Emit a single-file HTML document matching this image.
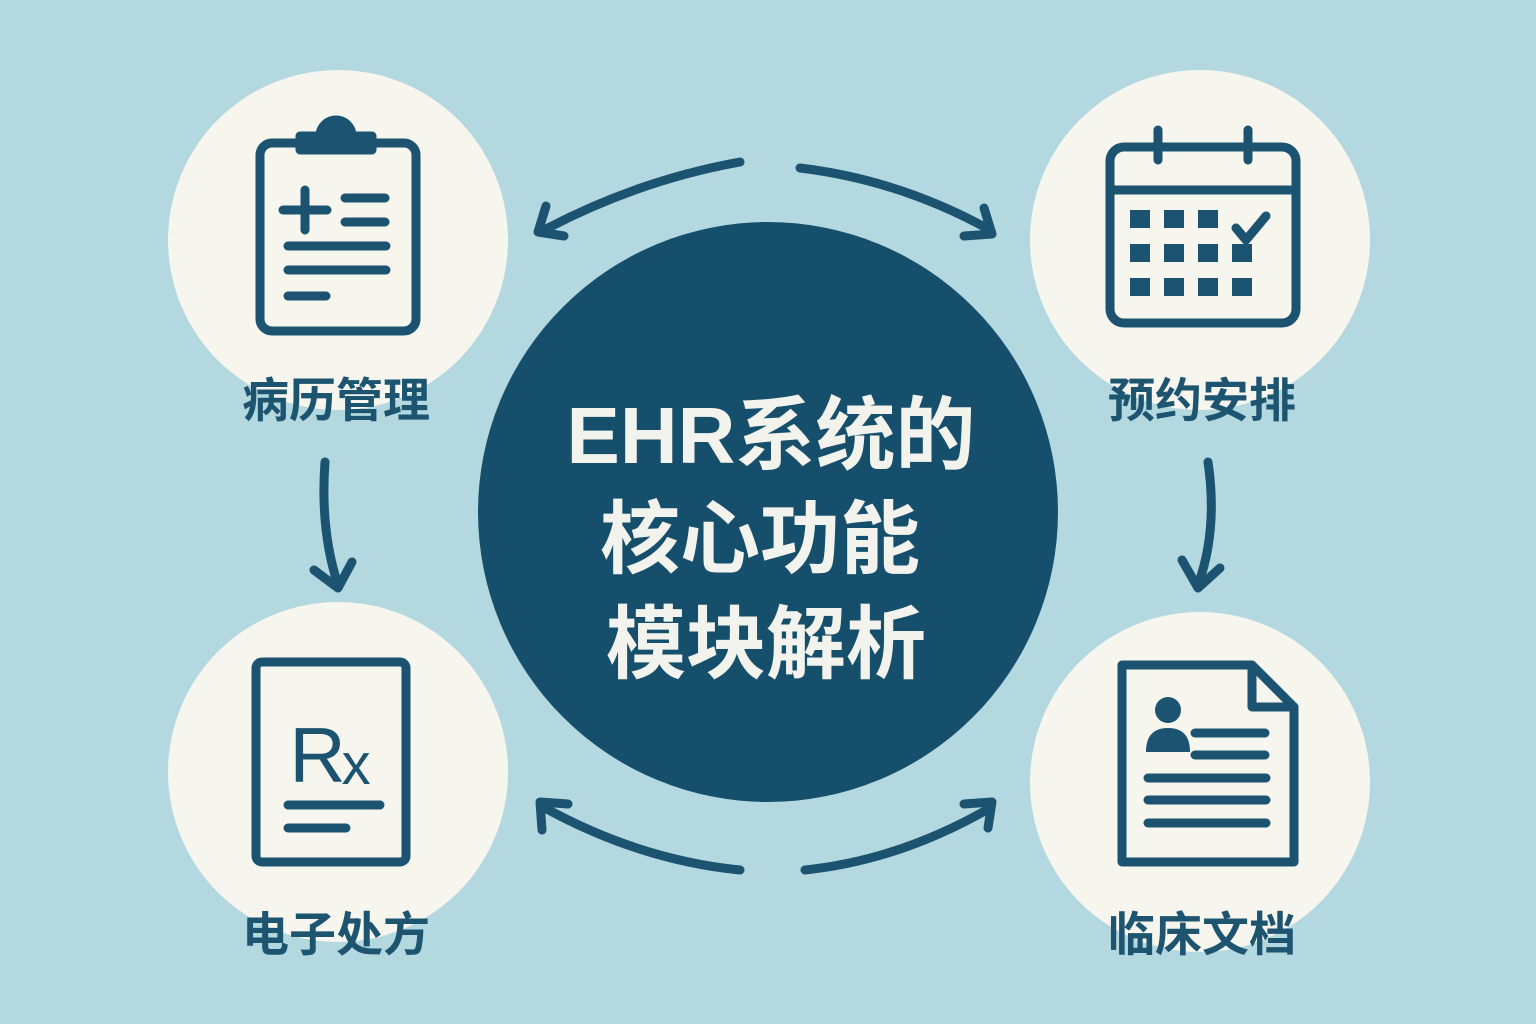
<!DOCTYPE html>
<html><head><meta charset="utf-8"><style>
html,body{margin:0;padding:0;}
body{width:1536px;height:1024px;background:#b4d8e0;overflow:hidden;}
svg{display:block}
</style></head><body>
<svg width="1536" height="1024" viewBox="0 0 1536 1024" xmlns="http://www.w3.org/2000/svg">
<rect width="1536" height="1024" fill="#b4d8e0"/>
<g fill="#f6f5ee">
<circle cx="338" cy="240" r="170"/>
<circle cx="1200" cy="240" r="170"/>
<circle cx="338" cy="772" r="170"/>
<circle cx="1200" cy="782" r="170"/>
</g>
<circle cx="768" cy="512" r="290" fill="#154f6b"/>
<g fill="none" stroke="#1b5370" stroke-width="9" stroke-linecap="round" stroke-linejoin="round">
<rect x="260" y="143" width="156" height="188" rx="12"/>
<path d="M300 150 v-14 h20 a16 16 0 0 1 32 0 h20 v14 z" fill="#1b5370"/>
<path d="M283 210 h44 M305 190 v40 M345 198 h40 M345 222 h40 M288 246 h98 M288 270 h98 M288 296 h38"/>
<rect x="1110" y="147" width="186" height="176" rx="14"/>
<path d="M1110 190 h186" />
<path d="M1158 130 v30 M1248 130 v30"/>
<path d="M1236 228 l10 12 l20 -24"/>
<rect x="256" y="662" width="150" height="200" rx="6"/>
<path d="M288 805 h92 M288 828 h58"/>
<path d="M1122 665 h130 l42 42 v155 h-172 z"/>
<path d="M1252 665 v42 h42" />
<path d="M1195 733 h70 M1195 755 h70 M1148 778 h118 M1148 800 h118 M1148 823 h118"/>
<path d="M740 162 Q640 180 548 228"/>
<path d="M546 206 l-8 26 l26 4"/>
<path d="M800 168 Q900 180 990 230"/>
<path d="M964 236 l28 -2 l-8 -26"/>
<path d="M325 462 Q320 530 338 585"/>
<path d="M314 570 l24 18 l14 -26"/>
<path d="M1208 462 Q1218 530 1198 585"/>
<path d="M1182 560 l16 28 l22 -20"/>
<path d="M740 870 Q640 860 545 808"/>
<path d="M542 830 l-2 -28 l28 2"/>
<path d="M805 870 Q900 860 990 808"/>
<path d="M964 804 l28 -2 l-4 26"/>
</g>
<g fill="#1b5370">
<rect x="1130" y="210" width="20" height="18"/><rect x="1164" y="210" width="20" height="18"/><rect x="1198" y="210" width="20" height="18"/>
<rect x="1130" y="244" width="20" height="18"/><rect x="1164" y="244" width="20" height="18"/><rect x="1198" y="244" width="20" height="18"/><rect x="1232" y="244" width="20" height="18"/>
<rect x="1130" y="278" width="20" height="18"/><rect x="1164" y="278" width="20" height="18"/><rect x="1198" y="278" width="20" height="18"/><rect x="1232" y="278" width="20" height="18"/>
<circle cx="1168" cy="710" r="13"/>
<path d="M1146 752 q0 -24 22 -24 q22 0 22 24 z"/>
</g>
<text x="330" y="782" text-anchor="middle" font-family="Liberation Sans, sans-serif" font-size="78" fill="#1b5370">R<tspan font-size="58" dx="-4" dy="2">x</tspan></text>
<g font-family="Liberation Sans, 'Noto Sans CJK SC', sans-serif" font-weight="bold" fill="#1d5470" font-size="47" text-anchor="middle">
<text x="336" y="417">病历管理</text>
<text x="1202" y="417">预约安排</text>
<text x="336" y="951">电子处方</text>
<text x="1202" y="951">临床文档</text>
</g>
<g font-family="Liberation Sans, 'Noto Sans CJK SC', sans-serif" font-weight="bold" fill="#f3f3ee" font-size="80" text-anchor="middle">
<text x="771" y="463">EHR系统的</text>
<text x="760" y="567">核心功能</text>
<text x="766" y="672">模块解析</text>
</g>
</svg>
</body></html>
